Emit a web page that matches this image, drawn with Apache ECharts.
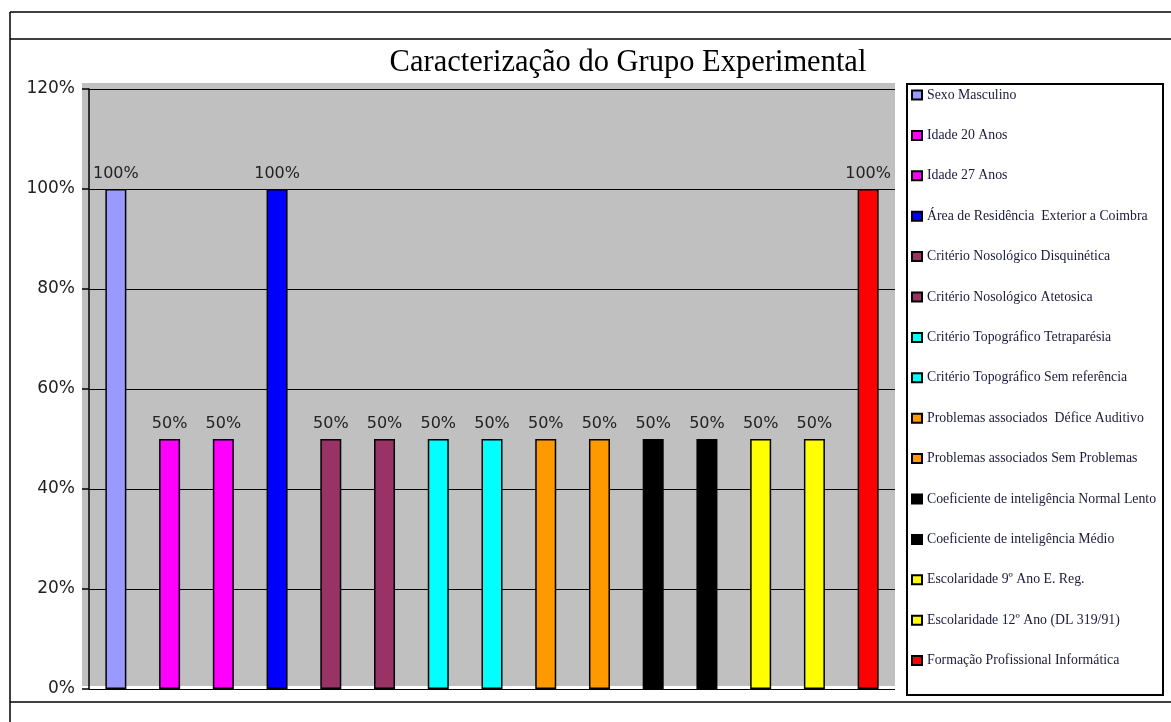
<!DOCTYPE html>
<html>
<head>
<meta charset="UTF-8">
<title>Caracterização do Grupo Experimental</title>
<script type="text/javascript" src="https://cdn.jsdelivr.net/npm/echarts@6/dist/echarts.min.js"></script>
<style>
	html,body{margin:0;padding:0;background:#fff;}
</style>
</head>
<body>
	<div id="box" style="width:1171px;height:722px;"></div>
	<script type="text/javascript">
		// categorias (uma por série, como no original)
		var categorias = [
			'Sexo Masculino',
			'Idade 20 Anos',
			'Idade 27 Anos',
			'Área de Residência  Exterior a Coimbra',
			'Critério Nosológico Disquinética',
			'Critério Nosológico Atetosica',
			'Critério Topográfico Tetraparésia',
			'Critério Topográfico Sem referência',
			'Problemas associados  Défice Auditivo',
			'Problemas associados Sem Problemas',
			'Coeficiente de inteligência Normal Lento',
			'Coeficiente de inteligência Médio',
			'Escolaridade 9º Ano E. Reg.',
			'Escolaridade 12º Ano (DL 319/91)',
			'Formação Profissional Informática'
		];
		var valores = [100, 50, 50, 100, 50, 50, 50, 50, 50, 50, 50, 50, 50, 50, 100];
		var cores = ['#9999ff', '#ff00ff', '#ff00ff', '#0000ff', '#993366', '#993366',
			'#00ffff', '#00ffff', '#ff9900', '#ff9900', '#000000', '#000000',
			'#ffff00', '#ffff00', '#ff0000'];
		var yTicks = [0, 20, 40, 60, 80, 100, 120];

		var series = [];
		for (var i = 0; i < categorias.length; i++) {
			var d = [];
			for (var j = 0; j < categorias.length; j++) {
				d.push(j == i ? valores[i] : '-');
			}
			series.push({
				name: categorias[i],
				type: 'bar',
				stack: 'total',
				barWidth: 21,
				data: d,
				itemStyle: {color: cores[i], borderColor: '#000', borderWidth: 1.5},
				label: {
					show: true,
					position: 'top',
					distance: 7,
					formatter: '{c}%',
					fontFamily: 'DejaVu Sans',
					fontSize: 16,
					color: '#222'
				}
			});
		}

		var mychart = echarts.init(document.getElementById('box'));
		var option = {
			animation: false,
			title: {
				text: 'Caracterização do Grupo Experimental',
				left: 623,
				textAlign: 'center',
				top: 42,
				textStyle: {fontFamily: 'Liberation Serif', fontSize: 30.5, fontWeight: 'normal', color: '#000'}
			},
			graphic: [
				{type: 'line', shape: {x1: 10, y1: 12, x2: 1171, y2: 12}, style: {stroke: '#000', lineWidth: 1.5}},
				{type: 'line', shape: {x1: 10, y1: 39, x2: 1171, y2: 39}, style: {stroke: '#000', lineWidth: 1.5}},
				{type: 'line', shape: {x1: 10, y1: 12, x2: 10, y2: 722}, style: {stroke: '#000', lineWidth: 1.5}},
				{type: 'line', shape: {x1: 10, y1: 702, x2: 1171, y2: 702}, style: {stroke: '#000', lineWidth: 1.5}},
				{type: 'rect', z: -10, shape: {x: 82, y: 83, width: 813, height: 603}, style: {fill: '#c0c0c0'}},
				{type: 'rect', z: -10, shape: {x: 907, y: 84, width: 256, height: 611}, style: {fill: '#fff', stroke: '#000', lineWidth: 2}}
			],
			legend: {
				orient: 'vertical',
				left: 911,
				top: 88,
				padding: 0,
				itemWidth: 10,
				itemHeight: 9,
				itemGap: 26.4,
				icon: 'rect',
				data: categorias,
				textStyle: {fontFamily: 'Liberation Serif', fontSize: 13.8, lineHeight: 12, color: '#1a1a3a'}
			},
			grid: {left: 89, top: 89, right: 276, bottom: 33},
			xAxis: {
				type: 'category',
				data: categorias,
				axisLine: {show: false},
				axisTick: {show: false},
				axisLabel: {show: false}
			},
			yAxis: {
				type: 'value',
				min: yTicks[0],
				max: yTicks[yTicks.length - 1],
				interval: 20,
				axisLine: {show: true, lineStyle: {color: '#000', width: 1.5}},
				axisTick: {show: true, length: 7, lineStyle: {color: '#000', width: 1.5}},
				axisLabel: {formatter: '{value}%', margin: 14, fontFamily: 'DejaVu Sans', fontSize: 17, color: '#222'},
				splitLine: {lineStyle: {color: '#000', width: 1}}
			},
			series: series
		};
		mychart.setOption(option);
	</script>
</body>
</html>
